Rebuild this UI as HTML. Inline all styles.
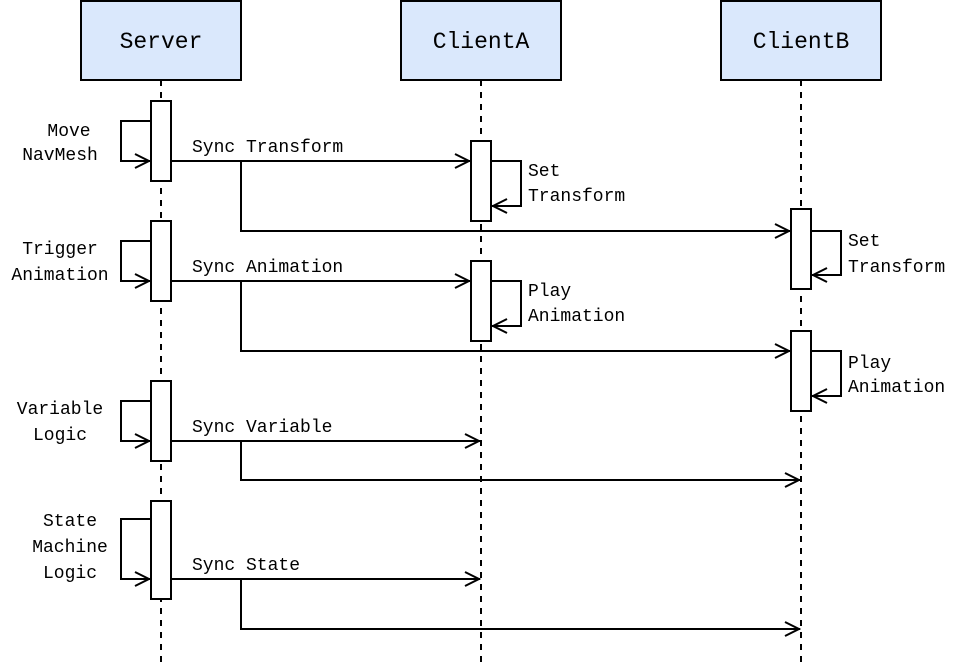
<!DOCTYPE html>
<html><head><meta charset="utf-8"><style>
html,body{margin:0;padding:0;background:#fff;}
svg{display:block;}
text{font-family:"Liberation Mono",monospace;fill:#000;}
.l{font-size:18px;}
.h{font-size:23px;}
</style></head><body>
<svg width="964" height="662" viewBox="0 0 964 662" xmlns="http://www.w3.org/2000/svg">
<g stroke="#000" stroke-width="2" fill="none">
<line x1="161" y1="80" x2="161" y2="662" stroke-dasharray="6,6"/>
<line x1="481" y1="80" x2="481" y2="662" stroke-dasharray="6,6"/>
<line x1="801" y1="80" x2="801" y2="662" stroke-dasharray="6,6"/>
<rect x="81" y="1" width="160" height="79" fill="#dae8fc"/>
<rect x="401" y="1" width="160" height="79" fill="#dae8fc"/>
<rect x="721" y="1" width="160" height="79" fill="#dae8fc"/>
<rect x="151" y="101" width="20" height="80" fill="#fff"/>
<rect x="151" y="221" width="20" height="80" fill="#fff"/>
<rect x="151" y="381" width="20" height="80" fill="#fff"/>
<rect x="151" y="501" width="20" height="98" fill="#fff"/>
<rect x="471" y="141" width="20" height="80" fill="#fff"/>
<rect x="471" y="261" width="20" height="80" fill="#fff"/>
<rect x="791" y="209" width="20" height="80" fill="#fff"/>
<rect x="791" y="331" width="20" height="80" fill="#fff"/>
<polyline points="151,121 121,121 121,161 151,161"/><polyline points="135,154 149,161 135,168"/>
<polyline points="151,241 121,241 121,281 151,281"/><polyline points="135,274 149,281 135,288"/>
<polyline points="151,401 121,401 121,441 151,441"/><polyline points="135,434 149,441 135,448"/>
<polyline points="151,519 121,519 121,579 151,579"/><polyline points="135,572 149,579 135,586"/>
<polyline points="491,161 521,161 521,206 491,206"/><polyline points="507,199 493,206 507,213"/>
<polyline points="491,281 521,281 521,326 491,326"/><polyline points="507,319 493,326 507,333"/>
<polyline points="811,231 841,231 841,275 811,275"/><polyline points="827,268 813,275 827,282"/>
<polyline points="811,351 841,351 841,396 811,396"/><polyline points="827,389 813,396 827,403"/>
<line x1="171" y1="161" x2="470" y2="161"/><polyline points="455,154 469,161 455,168"/>
<polyline points="241,161 241,231 790,231"/><polyline points="775,224 789,231 775,238"/>
<line x1="171" y1="281" x2="470" y2="281"/><polyline points="455,274 469,281 455,288"/>
<polyline points="241,281 241,351 790,351"/><polyline points="775,344 789,351 775,358"/>
<line x1="171" y1="441" x2="480" y2="441"/><polyline points="465,434 479,441 465,448"/>
<polyline points="241,441 241,480 800,480"/><polyline points="785,473 799,480 785,487"/>
<line x1="171" y1="579" x2="480" y2="579"/><polyline points="465,572 479,579 465,586"/>
<polyline points="241,579 241,629 800,629"/><polyline points="785,622 799,629 785,636"/>
</g>
<text class="h" x="161" y="48" text-anchor="middle">Server</text>
<text class="h" x="481" y="48" text-anchor="middle">ClientA</text>
<text class="h" x="801" y="48" text-anchor="middle">ClientB</text>
<g class="l">
<text x="192" y="152">Sync Transform</text>
<text x="192" y="272">Sync Animation</text>
<text x="192" y="432">Sync Variable</text>
<text x="192" y="570">Sync State</text>
<text x="528" y="176">Set</text><text x="528" y="201">Transform</text>
<text x="528" y="296">Play</text><text x="528" y="321">Animation</text>
<text x="848" y="246">Set</text><text x="848" y="272">Transform</text>
<text x="848" y="368">Play</text><text x="848" y="392">Animation</text>
<g text-anchor="middle">
<text x="69" y="136">Move</text><text x="60" y="160">NavMesh</text>
<text x="60" y="254">Trigger</text><text x="60" y="280">Animation</text>
<text x="60" y="414">Variable</text><text x="60" y="440">Logic</text>
<text x="70" y="526">State</text><text x="70" y="552">Machine</text><text x="70" y="578">Logic</text>
</g>
</g>
</svg>
</body></html>
